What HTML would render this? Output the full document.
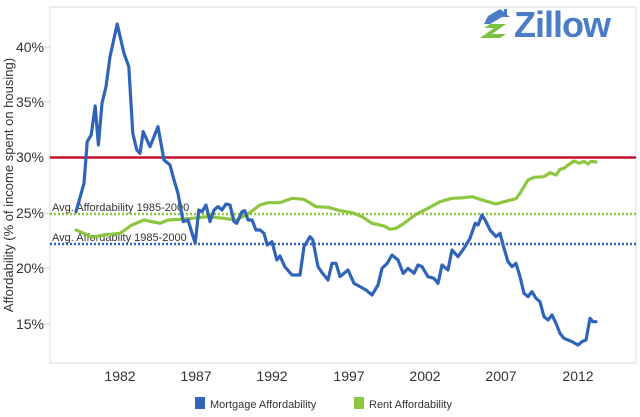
<!DOCTYPE html>
<html><head><style>
body{margin:0;background:#fff;width:640px;height:412px;overflow:hidden;font-family:"Liberation Sans",sans-serif}
</style></head><body>
<svg width="640" height="412" xmlns="http://www.w3.org/2000/svg" font-family="Liberation Sans, sans-serif">
<rect x="50" y="7" width="586" height="356" fill="none" stroke="#ddd" stroke-width="1"/>
<g fill="#333" font-size="14" text-anchor="end">
<text x="44" y="52">40%</text><text x="44" y="107">35%</text><text x="44" y="162">30%</text>
<text x="44" y="218">25%</text><text x="44" y="273">20%</text><text x="44" y="329">15%</text>
</g>
<g stroke="#ccc"><line x1="44" y1="47" x2="50" y2="47"/><line x1="44" y1="102" x2="50" y2="102"/><line x1="44" y1="213" x2="50" y2="213"/><line x1="44" y1="268" x2="50" y2="268"/><line x1="44" y1="324" x2="50" y2="324"/></g>
<g fill="#333" font-size="14" text-anchor="middle">
<text x="120" y="381">1982</text><text x="196" y="381">1987</text><text x="272" y="381">1992</text>
<text x="349" y="381">1997</text><text x="425" y="381">2002</text><text x="501" y="381">2007</text><text x="578" y="381">2012</text>
</g>
<text transform="translate(13,185) rotate(-90)" font-size="13" fill="#333" text-anchor="middle">Affordability (% of income spent on housing)</text>
<line x1="50" y1="157.5" x2="636" y2="157.5" stroke="#c8102e" stroke-width="2.5"/>
<line x1="50" y1="214" x2="636" y2="214" stroke="#8dc63f" stroke-width="2.5" stroke-dasharray="2,2"/>
<line x1="50" y1="244" x2="636" y2="244" stroke="#2f64b9" stroke-width="2.5" stroke-dasharray="2,2"/>
<text x="52" y="211" font-size="11" fill="#333">Avg. Affordability 1985-2000</text>
<text x="52" y="241" font-size="11" fill="#333">Avg. Affordablity 1985-2000</text>
<g transform="scale(0.4,0.33333)" fill="none" stroke-linejoin="round" stroke-linecap="round">
<polyline vector-effect="non-scaling-stroke" stroke="#8dc63f" stroke-width="3.2" points="190,690 210,700 230,712 260,705 300,700 330,675 360,660 380,665 400,670 420,660 450,658 480,655 520,650 560,655 590,660 620,642 650,615 670,608 700,608 730,595 760,598 790,620 820,622 850,632 880,638 905,650 930,670 960,678 975,688 990,685 1010,670 1040,643 1070,625 1100,605 1130,595 1160,593 1180,590 1200,598 1220,605 1240,612 1260,605 1290,596 1300,580 1320,540 1335,532 1360,530 1375,518 1390,525 1400,508 1410,505 1420,495 1435,483 1448,490 1460,484 1470,492 1478,484 1490,486"/>
<polyline vector-effect="non-scaling-stroke" stroke="#2f64b9" stroke-width="3.2" points="190,635 210,550 218,425 228,405 238,318 246,435 255,310 265,260 275,170 293,72 310,160 322,200 332,400 342,450 350,460 358,395 375,440 395,380 410,480 425,495 435,540 445,580 458,665 470,660 488,730 497,630 505,635 515,615 525,665 535,630 545,620 555,630 565,612 575,615 585,665 592,670 605,635 612,632 620,660 630,660 640,690 650,690 660,700 668,735 680,725 692,780 700,768 712,800 730,825 750,825 760,740 775,710 782,720 795,800 805,818 820,840 830,790 840,790 850,830 870,810 885,850 900,860 915,870 930,885 945,855 955,805 968,790 980,765 995,780 1008,820 1020,805 1035,820 1045,795 1055,800 1070,830 1085,835 1095,850 1105,795 1120,810 1130,750 1145,770 1160,745 1175,715 1188,670 1195,675 1205,645 1215,665 1225,690 1240,710 1250,700 1260,745 1270,785 1280,800 1290,790 1300,830 1310,880 1320,890 1330,875 1340,895 1350,905 1360,950 1370,960 1380,945 1390,970 1400,1000 1410,1015 1420,1020 1430,1025 1445,1035 1455,1025 1465,1020 1475,955 1482,965 1490,965"/>
</g>
<rect x="195" y="397" width="10" height="12" fill="#2f64b9"/>
<text x="210" y="408" font-size="11" fill="#333">Mortgage Affordability</text>
<rect x="354" y="397" width="10" height="12" fill="#8dc63f"/>
<text x="369" y="408" font-size="11" fill="#333">Rent Affordability</text>
<g transform="translate(480,8)">
<polygon points="8,8 20,1 24,4 24,1 27,1 27,7 30,9 22,9 10,16 4,16" fill="#4a7cc7"/>
<polygon points="0,30 14,20 4,20 10,16 26,16 12,26 26,26 20,30" fill="#7ac143"/>
</g>
<text x="514" y="37" font-size="36" font-weight="bold" fill="#4a7cc7" letter-spacing="-1">Zillow</text>
</svg>
</body></html>
